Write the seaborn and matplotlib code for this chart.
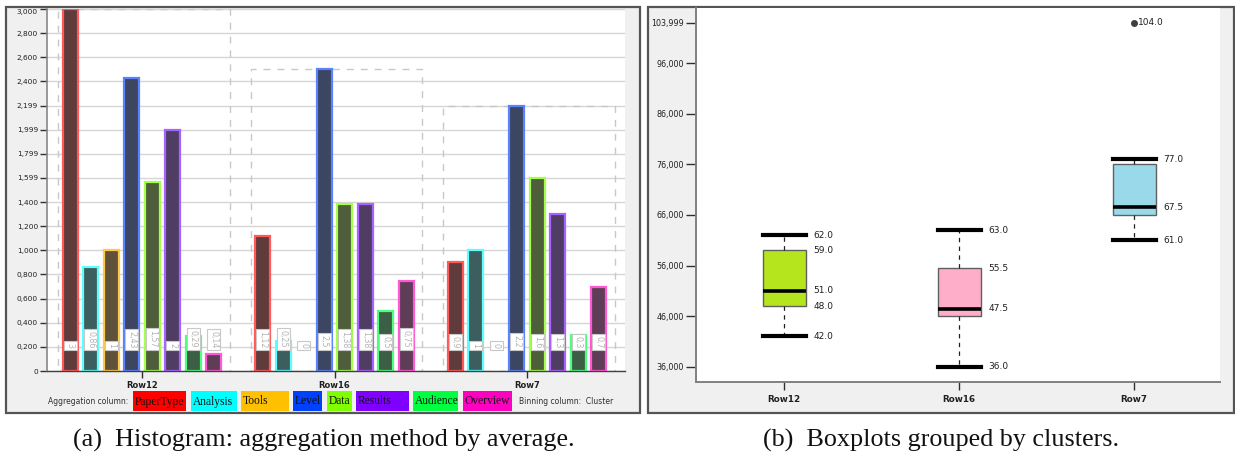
import matplotlib
matplotlib.use("Agg")
import matplotlib.pyplot as plt
from matplotlib.patches import Rectangle
import pandas as pd
import seaborn as sns

# ---------------- data ----------------
clusters = ["Row12", "Row16", "Row7"]
columns = ["PaperType", "Analysis", "Tools", "Level", "Data", "Results", "Audience", "Overview"]
avg_row12 = [3.0, 0.86, 1.0, 2.43, 1.57, 2.0, 0.29, 0.14]
avg_row16 = [1.12, 0.25, 0.0, 2.5, 1.38, 1.38, 0.5, 0.75]
avg_row7 = [0.9, 1.0, 0.0, 2.2, 1.6, 1.3, 0.3, 0.7]

legend_colors = ["#ff0000", "#00ffff", "#ffc000", "#0040ff", "#80ff00", "#8000ff", "#00ff40", "#ff00c0"]
fill_colors = ["#5f3b3c", "#3d5e5e", "#5e533a", "#3c4661", "#4e5e3b", "#4f3d63", "#3c5e45", "#5f3d57"]
edge_colors = ["#ff5a5a", "#5cffff", "#ffc84a", "#5a82ff", "#a4ff4a", "#a862ff", "#4dff7c", "#ff58d2"]

bar_ticks = [0.0, 0.2, 0.4, 0.6, 0.8, 1.0, 1.2, 1.4, 1.6, 1.8, 2.0, 2.2, 2.4, 2.6, 2.8, 3.0]
bar_tick_labels = ["0", "0,200", "0,400", "0,600", "0,800", "1,000", "1,200", "1,400",
                   "1,599", "1,799", "1,999", "2,199", "2,400", "2,600", "2,800", "3,000"]

whisker_low = [42.0, 36.0, 61.0]
quartile_1 = [48.0, 46.0, 66.0]
medians = [51.0, 47.5, 67.5]
quartile_3 = [59.0, 55.5, 76.0]
whisker_high = [62.0, 63.0, 77.0]
outliers = [[], [], [104.0]]
labeled_stats = [["whishi", "q3", "med", "q1", "whislo"],
                 ["whishi", "q3", "med", "whislo"],
                 ["whishi", "med", "whislo"]]
box_colors = ["#b5e61d", "#ffaec9", "#99d9ea"]
box_ticks = [36, 46, 56, 66, 76, 86, 96, 104]
box_tick_labels = ["36,000", "46,000", "56,000", "66,000", "76,000", "86,000", "96,000", "103,999"]

# ---------------- figure ----------------
W, H = 1235, 459
fig = plt.figure(figsize=(W / 100, H / 100), dpi=100)
fig.patch.set_facecolor("white")


def fx(px):
    return px / W


def fy(py):
    return 1 - py / H


def frame(x0, y0, x1, y1):
    fig.add_artist(Rectangle((fx(x0), fy(y1)), (x1 - x0) / W, (y1 - y0) / H,
                             transform=fig.transFigure, facecolor="#f0f0f0",
                             edgecolor="#555555", linewidth=1.6, zorder=0))


frame(6, 7, 640, 413)
frame(648, 7, 1234, 413)

sans = ["DejaVu Sans"]
serif = ["Liberation Serif", "DejaVu Serif"]

# ---------------- left: grouped bars ----------------
ax1 = fig.add_axes([fx(47), fy(371), 578 / W, 362 / H])
ax1.set_facecolor("white")

df = pd.DataFrame({
    "cluster": [c for c in clusters for _ in columns],
    "column": columns * len(clusters),
    "value": avg_row12 + avg_row16 + avg_row7,
})

sns.barplot(data=df, x="cluster", y="value", hue="column", order=clusters,
            hue_order=columns, palette=dict(zip(columns, fill_colors)),
            saturation=1, width=0.853, gap=0.27, errorbar=None, legend=False, ax=ax1)

for cont, ec in zip(ax1.containers, edge_colors):
    for bar in cont:
        h = bar.get_height()
        bar.set_edgecolor(ec)
        bar.set_linewidth(1.6 if h > 0 else 0)
        bar.set_zorder(2)
        label = f"{h:g}".replace(".", ",")
        ax1.text(bar.get_x() + bar.get_width() / 2, 0.19, label, rotation=270,
                 ha="center", va="bottom", fontsize=5.8, color="#b4b4b4",
                 family=sans, zorder=4,
                 bbox=dict(boxstyle="square,pad=0.25", fc="white", ec="#c8c8c8", lw=0.8))

# dashed envelope per cluster at the group maximum
for i, vals in enumerate([avg_row12, avg_row16, avg_row7]):
    ax1.add_patch(Rectangle((i - 0.435, 0), 0.89, max(vals), fill=False,
                            edgecolor="#c8c8c8", linewidth=1.0,
                            linestyle=(0, (5, 5)), zorder=1))

ax1.set_xlim(-0.494, 2.509)
ax1.set_ylim(0, 3.0)
ax1.set_yticks(bar_ticks)
ax1.set_yticklabels(bar_tick_labels, family=sans)
ax1.get_yticklabels()[-1].set_verticalalignment("top")
ax1.set_axisbelow(True)
ax1.grid(axis="y", color="#d6d6d6", linewidth=1.0)
ax1.grid(axis="x", visible=False)
ax1.set_xlabel("")
ax1.set_ylabel("")
ax1.tick_params(axis="y", labelsize=5.3, length=5, width=1, color="#303030",
                pad=1.5, labelcolor="#202020")
ax1.tick_params(axis="x", labelsize=6, length=5, width=1, color="#303030",
                pad=2, labelcolor="#202020")
for lab in ax1.get_xticklabels():
    lab.set_family(sans)
    lab.set_fontweight("semibold")
ax1.spines["top"].set_visible(False)
ax1.spines["right"].set_visible(False)
ax1.spines["left"].set_color("#888888")
ax1.spines["left"].set_linewidth(1.2)
ax1.spines["bottom"].set_color("#404040")
ax1.spines["bottom"].set_linewidth(1.0)

# legend row under the bars
fig.text(fx(48), fy(401), "Aggregation column:", ha="left", va="center",
         fontsize=5.5, color="#303030", family=sans)
legend_boxes = [(133, 186), (191, 237), (241, 289), (293, 322),
                (327, 352), (356, 409), (413, 458), (463, 512)]
for name, col, (x0, x1) in zip(columns, legend_colors, legend_boxes):
    fig.add_artist(Rectangle((fx(x0), fy(411)), (x1 - x0) / W, 20 / H,
                             transform=fig.transFigure, facecolor=col,
                             edgecolor="none", zorder=2))
    fig.text(fx(x0 + 1.5), fy(401.5), name, ha="left", va="center",
             fontsize=8.3, color="#111111", family=serif, zorder=3)
fig.text(fx(519), fy(401), "Binning column:  Cluster", ha="left", va="center",
         fontsize=5.5, color="#303030", family=sans)

# ---------------- right: boxplots ----------------
ax2 = fig.add_axes([fx(696), fy(382), 524 / W, 374 / H])
ax2.set_facecolor("white")

stats = []
for i, name in enumerate(clusters):
    stats.append(dict(label=name, whislo=whisker_low[i], q1=quartile_1[i], med=medians[i],
                      q3=quartile_3[i], whishi=whisker_high[i], fliers=outliers[i]))

parts = ax2.bxp(stats, positions=[0, 1, 2], widths=0.246, capwidths=0.246,
                patch_artist=True, showfliers=True,
                boxprops=dict(edgecolor="#606060", linewidth=1.0),
                medianprops=dict(color="black", linewidth=2.6),
                whiskerprops=dict(color="#202020", linewidth=0.9, linestyle=(0, (3.5, 3.5))),
                capprops=dict(color="black", linewidth=3.0),
                flierprops=dict(marker="o", markersize=4, markerfacecolor="#404040",
                                markeredgecolor="#404040"))
for patch, col in zip(parts["boxes"], box_colors):
    patch.set_facecolor(col)

for i, keys in enumerate(labeled_stats):
    for k in keys:
        v = stats[i][k]
        ax2.text(i + 0.123 + 0.045, v, f"{v:.1f}", ha="left", va="center",
                 fontsize=6.5, color="#202020", family=sans)
    for v in outliers[i]:
        ax2.text(i + 0.022, v, f"{v:.1f}", ha="left", va="center",
                 fontsize=6.5, color="#202020", family=sans)

ax2.set_xlim(-0.503, 2.49)
ax2.set_ylim(33.0, 106.9)
ax2.set_xticks([0, 1, 2])
ax2.set_xticklabels(clusters, family=sans)
for lab in ax2.get_xticklabels():
    lab.set_fontweight("semibold")
ax2.set_yticks(box_ticks)
ax2.set_yticklabels(box_tick_labels, family=sans)
ax2.tick_params(axis="y", labelsize=5.8, length=7, width=1, color="#303030",
                pad=1.5, labelcolor="#202020")
ax2.tick_params(axis="x", labelsize=6.3, length=6, width=1, color="#303030",
                pad=3, labelcolor="#202020")
ax2.spines["top"].set_visible(False)
ax2.spines["right"].set_visible(False)
for s in ("left", "bottom"):
    ax2.spines[s].set_color("#808080")
    ax2.spines[s].set_linewidth(1.4)

# ---------------- captions ----------------
fig.text(fx(324), fy(440), "(a)  Histogram: aggregation method by average.",
         ha="center", va="center", fontsize=18.8, color="#111111", family=serif)
fig.text(fx(941), fy(440), "(b)  Boxplots grouped by clusters.",
         ha="center", va="center", fontsize=18.8, color="#111111", family=serif)

fig.savefig("out.png", dpi=100, facecolor="white")
